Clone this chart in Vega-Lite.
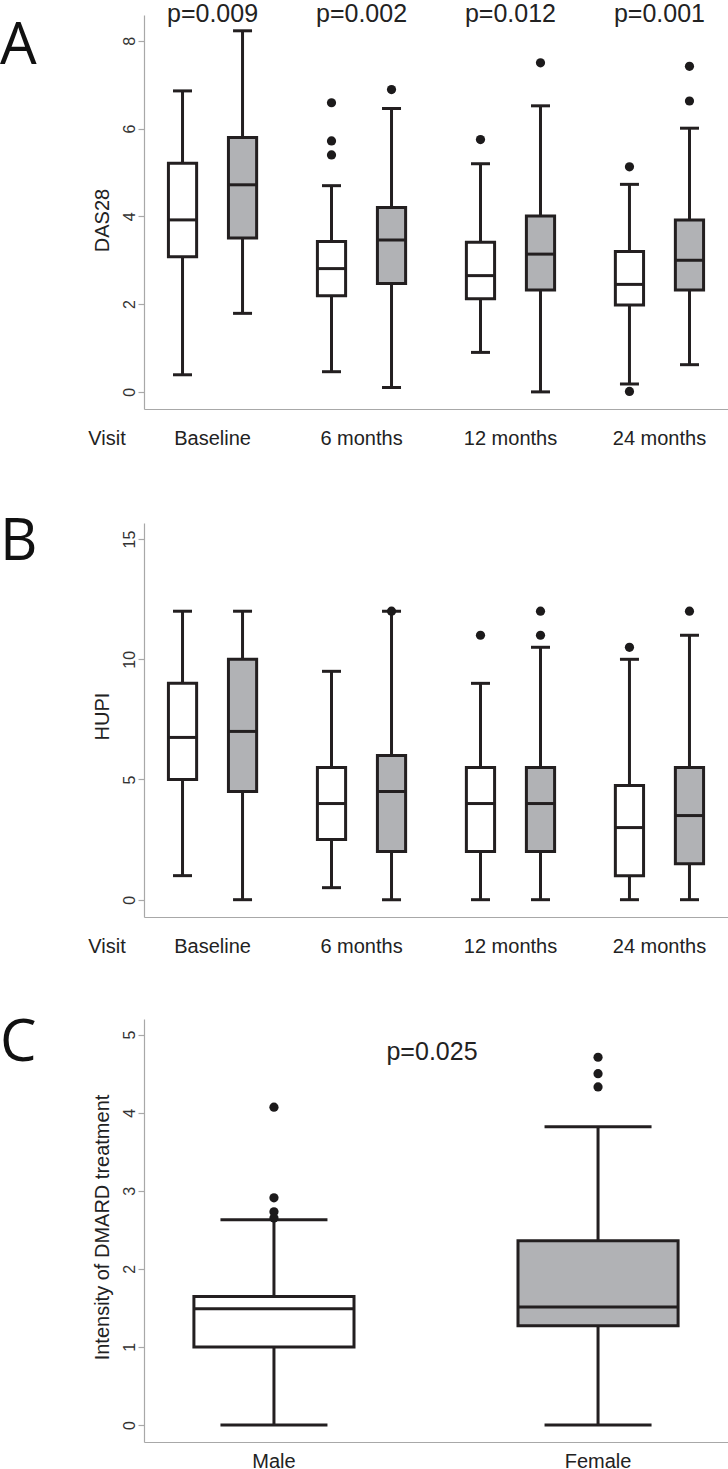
{
  "$schema": "https://vega.github.io/schema/vega-lite/v6.json",
  "padding": {"top": 2, "left": 0, "right": 0, "bottom": 0},
  "config": {
    "view": {"stroke": null},
    "font": "Liberation Sans",
    "axis": {"grid": false, "labelFont": "Liberation Sans", "titleFont": "Liberation Sans", "domainColor": "#a8a8a8", "tickColor": "#a8a8a8", "domainWidth": 1.2, "tickWidth": 1.2},
    "title": {"font": "Open Sans", "fontSize": 58, "fontWeight": "normal", "color": "#111111", "anchor": "start", "frame": "group", "baseline": "alphabetic", "offset": 0}
  },
  "datasets": {
    "dasBox": [
      {"visit": "Baseline", "sex": "Male", "lower": 0.39, "q1": 3.08, "median": 3.92, "q3": 5.21, "upper": 6.86},
      {"visit": "Baseline", "sex": "Female", "lower": 1.79, "q1": 3.51, "median": 4.72, "q3": 5.80, "upper": 8.23},
      {"visit": "6 months", "sex": "Male", "lower": 0.46, "q1": 2.19, "median": 2.81, "q3": 3.43, "upper": 4.70},
      {"visit": "6 months", "sex": "Female", "lower": 0.10, "q1": 2.47, "median": 3.46, "q3": 4.20, "upper": 6.46},
      {"visit": "12 months", "sex": "Male", "lower": 0.90, "q1": 2.12, "median": 2.65, "q3": 3.41, "upper": 5.20},
      {"visit": "12 months", "sex": "Female", "lower": 0.0, "q1": 2.32, "median": 3.14, "q3": 4.01, "upper": 6.52},
      {"visit": "24 months", "sex": "Male", "lower": 0.18, "q1": 1.98, "median": 2.45, "q3": 3.20, "upper": 4.73},
      {"visit": "24 months", "sex": "Female", "lower": 0.62, "q1": 2.32, "median": 3.00, "q3": 3.92, "upper": 6.01}
    ],
    "dasOut": [
      {"visit": "6 months", "sex": "Male", "value": 6.59},
      {"visit": "6 months", "sex": "Male", "value": 5.72},
      {"visit": "6 months", "sex": "Male", "value": 5.40},
      {"visit": "6 months", "sex": "Female", "value": 6.89},
      {"visit": "12 months", "sex": "Male", "value": 5.75},
      {"visit": "12 months", "sex": "Female", "value": 7.50},
      {"visit": "24 months", "sex": "Male", "value": 5.13},
      {"visit": "24 months", "sex": "Male", "value": 0.01},
      {"visit": "24 months", "sex": "Female", "value": 7.42},
      {"visit": "24 months", "sex": "Female", "value": 6.63}
    ],
    "dasP": [
      {"visit": "Baseline", "label": "p=0.009"},
      {"visit": "6 months", "label": "p=0.002"},
      {"visit": "12 months", "label": "p=0.012"},
      {"visit": "24 months", "label": "p=0.001"}
    ],
    "hupiBox": [
      {"visit": "Baseline", "sex": "Male", "lower": 1, "q1": 5, "median": 6.75, "q3": 9, "upper": 12},
      {"visit": "Baseline", "sex": "Female", "lower": 0, "q1": 4.5, "median": 7, "q3": 10, "upper": 12},
      {"visit": "6 months", "sex": "Male", "lower": 0.5, "q1": 2.5, "median": 4, "q3": 5.5, "upper": 9.5},
      {"visit": "6 months", "sex": "Female", "lower": 0, "q1": 2, "median": 4.5, "q3": 6, "upper": 12},
      {"visit": "12 months", "sex": "Male", "lower": 0, "q1": 2, "median": 4, "q3": 5.5, "upper": 9},
      {"visit": "12 months", "sex": "Female", "lower": 0, "q1": 2, "median": 4, "q3": 5.5, "upper": 10.5},
      {"visit": "24 months", "sex": "Male", "lower": 0, "q1": 1, "median": 3, "q3": 4.75, "upper": 10},
      {"visit": "24 months", "sex": "Female", "lower": 0, "q1": 1.5, "median": 3.5, "q3": 5.5, "upper": 11}
    ],
    "hupiOut": [
      {"visit": "6 months", "sex": "Female", "value": 12},
      {"visit": "12 months", "sex": "Male", "value": 11},
      {"visit": "12 months", "sex": "Female", "value": 12},
      {"visit": "12 months", "sex": "Female", "value": 11},
      {"visit": "24 months", "sex": "Male", "value": 10.5},
      {"visit": "24 months", "sex": "Female", "value": 12}
    ],
    "dmardBox": [
      {"sex": "Male", "lower": 0, "q1": 1.0, "median": 1.49, "q3": 1.645, "upper": 2.63},
      {"sex": "Female", "lower": 0, "q1": 1.27, "median": 1.51, "q3": 2.36, "upper": 3.82}
    ],
    "dmardOut": [
      {"sex": "Male", "value": 4.07},
      {"sex": "Male", "value": 2.91},
      {"sex": "Male", "value": 2.73},
      {"sex": "Male", "value": 2.65},
      {"sex": "Female", "value": 4.71},
      {"sex": "Female", "value": 4.50},
      {"sex": "Female", "value": 4.33}
    ]
  },
  "bounds": "flush",
  "spacing": 114,
  "vconcat": [
    {
      "width": 584,
      "height": 394,
      "title": {"text": "A", "dx": -144, "dy": 78},
      "encoding": {
        "x": {"field": "visit", "type": "nominal", "sort": ["Baseline", "6 months", "12 months", "24 months"],
              "scale": {"paddingInner": 0.2, "paddingOuter": 0.06},
              "axis": {"title": "Visit", "titleX": -37.5, "titleY": 35, "titleBaseline": "alphabetic", "titleAlign": "center", "titleAngle": 0, "titleFontSize": 20, "titleFontWeight": "normal", "titleColor": "#222222",
                       "labelAngle": 0, "labelFontSize": 20, "labelColor": "#222222", "labelBaseline": "alphabetic", "labelPadding": 35, "ticks": false}},
        "xOffset": {"field": "sex", "type": "nominal", "sort": ["Male", "Female"], "scale": {"paddingInner": 0.53, "paddingOuter": 0.258}}
      },
      "layer": [
        {
          "data": {"name": "dasBox"},
          "mark": {"type": "rule", "color": "#231f20", "strokeWidth": 3},
          "encoding": {
            "y": {"field": "lower", "type": "quantitative", "title": "DAS28", "scale": {"domain": [-0.39, 8.59], "nice": false, "zero": false},
                  "axis": {"values": [0, 2, 4, 6, 8], "format": "d", "labelAngle": -90, "labelAlign": "center", "labelBaseline": "alphabetic", "labelFontSize": 16, "labelColor": "#333333", "labelPadding": 4, "tickSize": 6,
                           "titleX": -36, "titleY": 205, "titleAngle": -90, "titleAlign": "center", "titleBaseline": "alphabetic", "titleFontSize": 20, "titleFontWeight": "normal", "titleColor": "#222222"}},
            "y2": {"field": "upper"}
          }
        },
        {
          "data": {"name": "dasBox"},
          "mark": {"type": "bar", "stroke": "#231f20", "strokeWidth": 3},
          "encoding": {
            "y": {"field": "q1", "type": "quantitative", "title": "DAS28"},
            "y2": {"field": "q3"},
            "fill": {"field": "sex", "type": "nominal", "scale": {"domain": ["Male", "Female"], "range": ["#ffffff", "#b1b2b5"]}, "legend": null}
          }
        },
        {
          "data": {"name": "dasBox"},
          "mark": {"type": "tick", "color": "#231f20", "size": 28, "thickness": 3, "opacity": 1},
          "encoding": {"y": {"field": "median", "type": "quantitative", "title": "DAS28"}}
        },
        {
          "data": {"name": "dasBox"},
          "mark": {"type": "tick", "color": "#231f20", "size": 19, "thickness": 3, "opacity": 1},
          "encoding": {"y": {"field": "lower", "type": "quantitative", "title": "DAS28"}}
        },
        {
          "data": {"name": "dasBox"},
          "mark": {"type": "tick", "color": "#231f20", "size": 19, "thickness": 3, "opacity": 1},
          "encoding": {"y": {"field": "upper", "type": "quantitative", "title": "DAS28"}}
        },
        {
          "data": {"name": "dasOut"},
          "mark": {"type": "point", "filled": true, "color": "#1c1a1b", "size": 85, "opacity": 1},
          "encoding": {"y": {"field": "value", "type": "quantitative", "title": "DAS28"}}
        },
        {
          "data": {"name": "dasP"},
          "mark": {"type": "text", "fontSize": 25, "baseline": "alphabetic", "color": "#222222"},
          "encoding": {
            "xOffset": null,
            "y": {"datum": 8.42},
            "text": {"field": "label", "type": "nominal"}
          }
        }
      ]
    },
    {
      "bounds": "flush",
      "spacing": 102,
      "vconcat": [
        {
          "width": 584,
          "height": 394,
          "title": {"text": "B", "dx": -144, "dy": 53},
          "encoding": {
            "x": {"field": "visit", "type": "nominal", "sort": ["Baseline", "6 months", "12 months", "24 months"],
                  "scale": {"paddingInner": 0.2, "paddingOuter": 0.06},
                  "axis": {"title": "Visit", "titleX": -37.5, "titleY": 35, "titleBaseline": "alphabetic", "titleAlign": "center", "titleAngle": 0, "titleFontSize": 20, "titleFontWeight": "normal", "titleColor": "#222222",
                           "labelAngle": 0, "labelFontSize": 20, "labelColor": "#222222", "labelBaseline": "alphabetic", "labelPadding": 35, "ticks": false}},
            "xOffset": {"field": "sex", "type": "nominal", "sort": ["Male", "Female"], "scale": {"paddingInner": 0.53, "paddingOuter": 0.258}}
          },
          "layer": [
            {
              "data": {"name": "hupiBox"},
              "mark": {"type": "rule", "color": "#231f20", "strokeWidth": 3},
              "encoding": {
                "y": {"field": "lower", "type": "quantitative", "title": "HUPI", "scale": {"domain": [-0.72, 15.67], "nice": false, "zero": false},
                      "axis": {"values": [0, 5, 10, 15], "format": "d", "labelAngle": -90, "labelAlign": "center", "labelBaseline": "alphabetic", "labelFontSize": 16, "labelColor": "#333333", "labelPadding": 4, "tickSize": 6,
                               "titleX": -36, "titleY": 193, "titleAngle": -90, "titleAlign": "center", "titleBaseline": "alphabetic", "titleFontSize": 20, "titleFontWeight": "normal", "titleColor": "#222222"}},
                "y2": {"field": "upper"}
              }
            },
            {
              "data": {"name": "hupiBox"},
              "mark": {"type": "bar", "stroke": "#231f20", "strokeWidth": 3},
              "encoding": {
                "y": {"field": "q1", "type": "quantitative", "title": "HUPI"},
                "y2": {"field": "q3"},
                "fill": {"field": "sex", "type": "nominal", "scale": {"domain": ["Male", "Female"], "range": ["#ffffff", "#b1b2b5"]}, "legend": null}
              }
            },
            {
              "data": {"name": "hupiBox"},
              "mark": {"type": "tick", "color": "#231f20", "size": 28, "thickness": 3, "opacity": 1},
              "encoding": {"y": {"field": "median", "type": "quantitative", "title": "HUPI"}}
            },
            {
              "data": {"name": "hupiBox"},
              "mark": {"type": "tick", "color": "#231f20", "size": 19, "thickness": 3, "opacity": 1},
              "encoding": {"y": {"field": "lower", "type": "quantitative", "title": "HUPI"}}
            },
            {
              "data": {"name": "hupiBox"},
              "mark": {"type": "tick", "color": "#231f20", "size": 19, "thickness": 3, "opacity": 1},
              "encoding": {"y": {"field": "upper", "type": "quantitative", "title": "HUPI"}}
            },
            {
              "data": {"name": "hupiOut"},
              "mark": {"type": "point", "filled": true, "color": "#1c1a1b", "size": 85, "opacity": 1},
              "encoding": {"y": {"field": "value", "type": "quantitative", "title": "HUPI"}}
            }
          ]
        },
        {
          "width": 584,
          "height": 423,
          "title": {"text": "C", "dx": -144, "dy": 58},
          "encoding": {
            "x": {"field": "sex", "type": "nominal", "sort": ["Male", "Female"],
                  "scale": {"paddingInner": 0.506, "paddingOuter": 0.154},
                  "axis": {"title": null, "labelAngle": 0, "labelFontSize": 20, "labelColor": "#222222", "labelBaseline": "alphabetic", "labelPadding": 25, "ticks": false}}
          },
          "layer": [
            {
              "data": {"name": "dmardBox"},
              "mark": {"type": "rule", "color": "#231f20", "strokeWidth": 3},
              "encoding": {
                "y": {"field": "lower", "type": "quantitative", "title": "Intensity of DMARD treatment", "scale": {"domain": [-0.218, 5.2], "nice": false, "zero": false},
                      "axis": {"values": [0, 1, 2, 3, 4, 5], "format": "d", "labelAngle": -90, "labelAlign": "center", "labelBaseline": "alphabetic", "labelFontSize": 16, "labelColor": "#333333", "labelPadding": 4, "tickSize": 6,
                               "titleX": -36, "titleY": 208, "titleAngle": -90, "titleAlign": "center", "titleBaseline": "alphabetic", "titleFontSize": 20, "titleFontWeight": "normal", "titleColor": "#222222"}},
                "y2": {"field": "upper"}
              }
            },
            {
              "data": {"name": "dmardBox"},
              "mark": {"type": "bar", "stroke": "#231f20", "strokeWidth": 3},
              "encoding": {
                "y": {"field": "q1", "type": "quantitative", "title": "Intensity of DMARD treatment"},
                "y2": {"field": "q3"},
                "fill": {"field": "sex", "type": "nominal", "scale": {"domain": ["Male", "Female"], "range": ["#ffffff", "#b1b2b5"]}, "legend": null}
              }
            },
            {
              "data": {"name": "dmardBox"},
              "mark": {"type": "tick", "color": "#231f20", "size": 160, "thickness": 3, "opacity": 1},
              "encoding": {"y": {"field": "median", "type": "quantitative", "title": "Intensity of DMARD treatment"}}
            },
            {
              "data": {"name": "dmardBox"},
              "mark": {"type": "tick", "color": "#231f20", "size": 107, "thickness": 3, "opacity": 1},
              "encoding": {"y": {"field": "lower", "type": "quantitative", "title": "Intensity of DMARD treatment"}}
            },
            {
              "data": {"name": "dmardBox"},
              "mark": {"type": "tick", "color": "#231f20", "size": 107, "thickness": 3, "opacity": 1},
              "encoding": {"y": {"field": "upper", "type": "quantitative", "title": "Intensity of DMARD treatment"}}
            },
            {
              "data": {"name": "dmardOut"},
              "mark": {"type": "point", "filled": true, "color": "#1c1a1b", "size": 85, "opacity": 1},
              "encoding": {"y": {"field": "value", "type": "quantitative", "title": "Intensity of DMARD treatment"}}
            },
            {
              "data": {"values": [{"label": "p=0.025"}]},
              "mark": {"type": "text", "fontSize": 25, "baseline": "alphabetic", "color": "#222222", "x": {"expr": "width/2"}, "dx": -4},
              "encoding": {
                "x": null,
                "y": {"datum": 4.67},
                "text": {"field": "label", "type": "nominal"}
              }
            }
          ]
        }
      ]
    }
  ]
}
